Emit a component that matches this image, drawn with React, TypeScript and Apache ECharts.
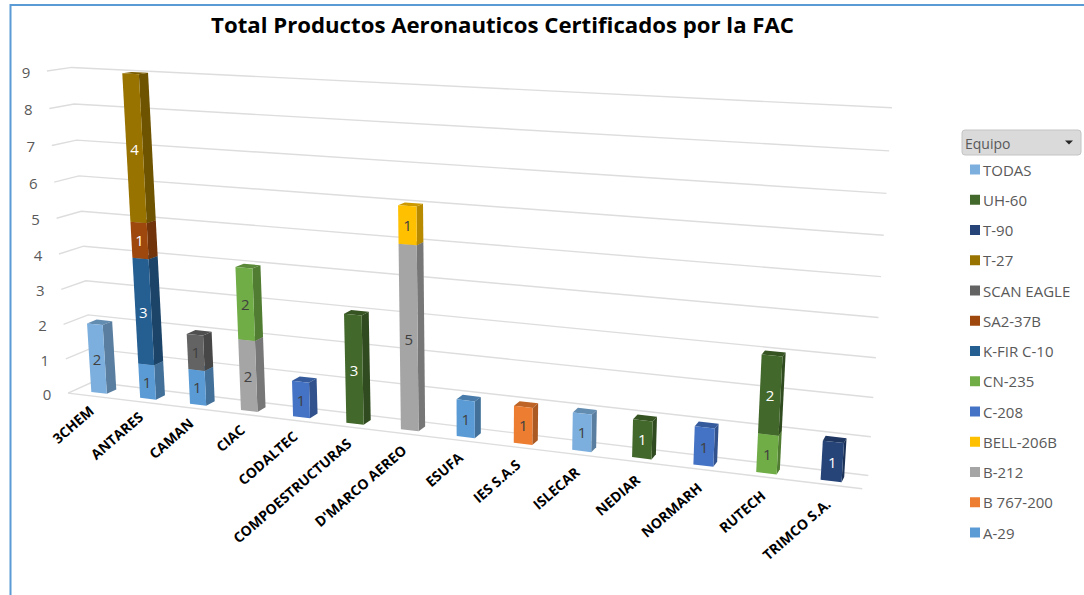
import React, { useEffect, useRef } from "react";
import * as echarts from "echarts";

const categories = ["3CHEM", "ANTARES", "CAMAN", "CIAC", "CODALTEC", "COMPOESTRUCTURAS", "D'MARCO AEREO", "ESUFA", "IES S.A.S", "ISLECAR", "NEDIAR", "NORMARH", "RUTECH", "TRIMCO S.A."];
const valueTicks = [0, 1, 2, 3, 4, 5, 6, 7, 8, 9];

// Stack order, bottom to top
const equipos = ["A-29", "B 767-200", "B-212", "BELL-206B", "C-208", "CN-235", "K-FIR C-10", "SA2-37B", "SCAN EAGLE", "T-27", "T-90", "UH-60", "TODAS"];
const a29 = [null, 1, 1, null, null, null, null, 1, null, null, null, null, null, null];
const b767 = [null, null, null, null, null, null, null, null, 1, null, null, null, null, null];
const b212 = [null, null, null, 2, null, null, 5, null, null, null, null, null, null, null];
const bell206 = [null, null, null, null, null, null, 1, null, null, null, null, null, null, null];
const c208 = [null, null, null, null, 1, null, null, null, null, null, null, 1, null, null];
const cn235 = [null, null, null, 2, null, null, null, null, null, null, null, null, 1, null];
const kfir = [null, 3, null, null, null, null, null, null, null, null, null, null, null, null];
const sa2 = [null, 1, null, null, null, null, null, null, null, null, null, null, null, null];
const scanEagle = [null, null, 1, null, null, null, null, null, null, null, null, null, null, null];
const t27 = [null, 4, null, null, null, null, null, null, null, null, null, null, null, null];
const t90 = [null, null, null, null, null, null, null, null, null, null, null, null, null, 1];
const uh60 = [null, null, null, null, null, 3, null, null, null, null, 1, null, 2, null];
const todas = [2, null, null, null, null, null, null, null, null, 1, null, null, null, null];
const seriesValues = [a29, b767, b212, bell206, c208, cn235, kfir, sa2, scanEagle, t27, t90, uh60, todas];

const colors = ["#5B9BD5", "#ED7D31", "#A5A5A5", "#FFC000", "#4472C4", "#70AD47", "#255E91", "#9E480E", "#636363", "#997300", "#264478", "#43682B", "#7CAFDD"];
const labelColors = ["#404040", "#404040", "#404040", "#404040", "#404040", "#404040", "#FFFFFF", "#FFFFFF", "#404040", "#FFFFFF", "#FFFFFF", "#FFFFFF", "#404040"];

// Perspective of the drawing: the quad of the bar-front plane, and a vanishing point for depth
const GRID = { left: 75, top: 70, width: 790, height: 320 };
const QUAD = [[75, 390], [864, 485], [888, 111], [54, 70]];
const VP = [1123, -84];
const BAR_DEPTH = 0.0093;
const WALL_DEPTH = 0.0167;
const FRONT_DEPTH = -0.0066;
const BAR_RATIO = 0.32;

function shade(hex: string, k: number) {
  const n = parseInt(hex.slice(1), 16);
  const r = Math.round(((n >> 16) & 255) * k);
  const g = Math.round(((n >> 8) & 255) * k);
  const b = Math.round((n & 255) * k);
  return `rgb(${r},${g},${b})`;
}

function makeHomography(q: number[][]) {
  const [[x0, y0], [x1, y1], [x2, y2], [x3, y3]] = q;
  const dx1 = x1 - x2, dx2 = x3 - x2, sx = x0 - x1 + x2 - x3;
  const dy1 = y1 - y2, dy2 = y3 - y2, sy = y0 - y1 + y2 - y3;
  const det = dx1 * dy2 - dx2 * dy1;
  const g = (sx * dy2 - dx2 * sy) / det;
  const h = (dx1 * sy - sx * dy1) / det;
  const a = x1 - x0 + g * x1, b = x3 - x0 + h * x3;
  const d = y1 - y0 + g * y1, e = y3 - y0 + h * y3;
  return (s: number, t: number) => {
    const w = g * s + h * t + 1;
    return [(a * s + b * t + x0) / w, (d * s + e * t + y0) / w];
  };
}
const homography = makeHomography(QUAD);

// plain cartesian pixel (from the axes) -> projected pixel, at a given depth
function project(px: number, py: number, depth = 0) {
  const s = (px - GRID.left) / GRID.width;
  const t = (GRID.top + GRID.height - py) / GRID.height;
  const [x, y] = homography(s, t);
  return [x + (VP[0] - x) * depth, y + (VP[1] - y) * depth];
}

const stackBases = categories.map((_, c) => {
  let acc = 0;
  return seriesValues.map((vals) => {
    const base = acc;
    acc += vals[c] ?? 0;
    return base;
  });
});

function barSeries(name: string, idx: number) {
  const vals = seriesValues[idx];
  const data = vals
    .map((v, c) => (v == null ? null : [c, stackBases[c][idx], v]))
    .filter(Boolean);
  const color = colors[idx];
  const side = shade(color, 0.72);
  const top = shade(color, 0.8);
  return {
    type: "custom",
    name,
    coordinateSystem: "cartesian2d",
    silent: true,
    itemStyle: { color },
    encode: { x: 0, y: 1 },
    data,
    renderItem: (_p: any, api: any) => {
      const c = api.value(0), base = api.value(1), v = api.value(2);
      const band = api.size([1, 0])[0];
      const lo = api.coord([c, base]);
      const hi = api.coord([c, base + v]);
      const l = lo[0] - (band * BAR_RATIO) / 2;
      const r = lo[0] + (band * BAR_RATIO) / 2;
      const fbl = project(l, lo[1]), fbr = project(r, lo[1]);
      const ftl = project(l, hi[1]), ftr = project(r, hi[1]);
      const bbr = project(r, lo[1], BAR_DEPTH), btr = project(r, hi[1], BAR_DEPTH), btl = project(l, hi[1], BAR_DEPTH);
      const mid = project(lo[0], (lo[1] + hi[1]) / 2);
      return {
        type: "group",
        children: [
          { type: "polygon", shape: { points: [ftl, ftr, btr, btl] }, style: { fill: top } },
          { type: "polygon", shape: { points: [fbr, bbr, btr, ftr] }, style: { fill: side } },
          { type: "polygon", shape: { points: [fbl, fbr, ftr, ftl] }, style: { fill: color } },
          {
            type: "text",
            x: mid[0],
            y: mid[1],
            style: {
              text: String(v),
              align: "center",
              verticalAlign: "middle",
              fill: labelColors[idx],
              font: '15px "Open Sans"',
            },
          },
        ],
      };
    },
  };
}

const wallSeries = {
  type: "custom",
  name: "__wall",
  coordinateSystem: "cartesian2d",
  silent: true,
  encode: { x: 0, y: 1 },
  data: valueTicks.map((v) => [0, v]),
  renderItem: (_p: any, api: any) => {
    const v = api.value(1);
    const band = api.size([1, 0])[0];
    const p0 = api.coord([0, v]);
    const pEnd = api.coord([categories.length - 1, v]);
    const l = p0[0] - band / 2;
    const r = pEnd[0] + band / 2;
    const a = project(l, p0[1], FRONT_DEPTH);
    const b = project(l, p0[1], WALL_DEPTH);
    const c = project(r, p0[1], WALL_DEPTH);
    const lineStyle = { stroke: "#DDDDDD", lineWidth: 1.4, fill: "none" };
    const children: any[] = [
      { type: "polyline", shape: { points: [a, b, c] }, style: lineStyle },
      {
        type: "text",
        x: a[0] - 21,
        y: a[1] + 1,
        style: { text: String(v), align: "center", verticalAlign: "middle", fill: "#595959", font: '15px "Open Sans"' },
      },
    ];
    if (v === 0) {
      const d = project(r, p0[1], FRONT_DEPTH);
      children.push({ type: "polyline", shape: { points: [a, d] }, style: lineStyle });
    }
    return { type: "group", children };
  },
};

const categoryLabelSeries = {
  type: "custom",
  name: "__cats",
  coordinateSystem: "cartesian2d",
  silent: true,
  encode: { x: 0, y: 1 },
  data: categories.map((_, i) => [i, 0]),
  renderItem: (_p: any, api: any) => {
    const i = api.value(0);
    const p = api.coord([i, 0]);
    const f = project(p[0], p[1], FRONT_DEPTH);
    return {
      type: "text",
      x: f[0] - 1,
      y: f[1] + 12 + (f[1] - 390) * 0.05,
      rotation: (41 * Math.PI) / 180,
      style: {
        text: categories[i],
        align: "right",
        verticalAlign: "middle",
        fill: "#000000",
        font: '700 14px "Open Sans"',
      },
    };
  },
};

export default function App() {
  const ref = useRef<HTMLDivElement>(null);
  useEffect(() => {
    const chart = echarts.init(ref.current!, undefined, { renderer: "svg" });
    chart.setOption({
      animation: false,
      backgroundColor: "#FFFFFF",
      title: {
        text: "Total Productos Aeronauticos Certificados por la FAC",
        left: 502.5,
        top: 13,
        padding: 0,
        textAlign: "center",
        textStyle: { fontFamily: "Open Sans", fontWeight: 700, fontSize: 22.2, color: "#000000" },
      },
      grid: GRID,
      xAxis: { type: "category", data: categories, show: false },
      yAxis: { type: "value", min: 0, max: 9, interval: 1, show: false },
      legend: {
        orient: "vertical",
        left: 970,
        top: 162,
        padding: 0,
        icon: "rect",
        itemWidth: 10,
        itemHeight: 10,
        itemGap: 15.25,
        selectedMode: false,
        data: [...equipos].reverse(),
        textStyle: { fontFamily: "Open Sans", fontSize: 15, color: "#595959", lineHeight: 14, padding: [0, 0, 0, -2] },
      },
      graphic: [
        {
          type: "polyline",
          silent: true,
          shape: { points: [[10.5, 595], [10.5, 5], [1084, 5]] },
          style: { stroke: "#5B9BD5", lineWidth: 2, fill: "none" },
        },
        {
          type: "rect",
          silent: true,
          shape: { x: 962, y: 130, width: 119, height: 25, r: 3 },
          style: { fill: "#DADADA", stroke: "#C4C4C4", lineWidth: 1 },
        },
        {
          type: "text",
          silent: true,
          x: 965,
          y: 143,
          style: { text: "Equipo", fill: "#595959", font: '14px "Open Sans"', verticalAlign: "middle", align: "left" },
        },
        {
          type: "polygon",
          silent: true,
          shape: { points: [[1065, 140.5], [1073, 140.5], [1069, 144.5]] },
          style: { fill: "#262626" },
        },
      ],
      series: [wallSeries, categoryLabelSeries, ...equipos.map(barSeries)],
    });
    return () => chart.dispose();
  }, []);
  return <div ref={ref} style={{ position: "absolute", left: 0, top: 0, width: 1084, height: 595 }} />;
}
